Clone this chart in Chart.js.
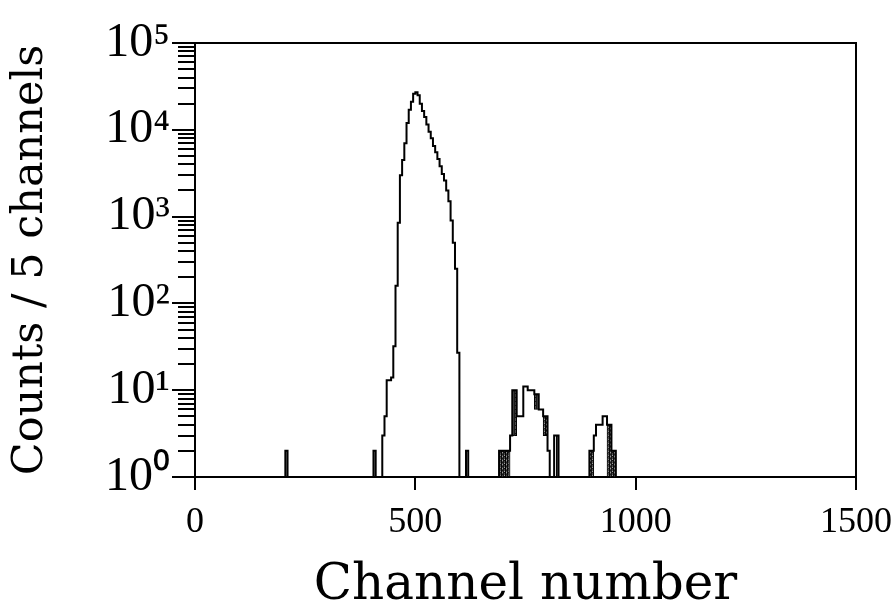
<!DOCTYPE html>
<html>
<head>
<meta charset="utf-8">
<script src="https://cdn.jsdelivr.net/npm/chart.js@4.4.0/dist/chart.umd.min.js"></script>
<style>
  html, body { margin: 0; padding: 0; background: #fff; }
  #wrap { width: 893px; height: 606px; }
</style>
</head>
<body>
<div id="wrap"><canvas id="spectrum"></canvas></div>
<script>
// ── Data (counts per 5-channel bin) ─────────────────────────
const BIN = 5;
const CHANNEL_MAX = 1500;

// main peak, first bin starts at channel 425
const mainStart = 425;
const mainCounts = [3, 5, 13, 13, 14, 32, 160, 850, 3000, 4500,
  7000, 12000, 17000, 21000, 26000, 27000, 25000, 20000, 16500, 14000,
  11500, 9500, 8000, 6500, 5500, 4600, 3800, 3100, 2600, 2000,
  1500, 900, 500, 250, 27];

// second group, from channel 690
const peak2Start = 690;
const peak2Counts = [2, 2, 2, 2, 2, 3, 10, 10, 5, 5, 5, 11, 11, 10, 10, 10,
  9, 9, 6, 6, 5, 5, 2, 1, 1, 3, 3];

// third group, from channel 895
const peak3Start = 895;
const peak3Counts = [2, 2, 3, 4, 4, 4, 5, 5, 4, 4, 2, 2];

// isolated single bins
const spikeChannels = [205, 405, 615];
const spikeCounts = [2, 2, 2];

// shaded parts of bins (bin start, lower and upper count)
const shadeStart = [690, 695, 700, 705, 710, 720, 725, 770, 775, 790, 795, 820, 895, 900, 935, 940, 945, 950];
const shadeLow   = [1, 1, 1, 1, 1, 3, 3, 6, 6, 3, 3, 1, 1, 1, 1, 1, 1, 1];
const shadeHigh  = [2, 2, 2, 2, 2, 10, 10, 9, 9, 5, 5, 3, 2, 2, 4, 4, 2, 2];

// axes
const xTicks = [0, 500, 1000, 1500];
const yMajor = [1, 10, 100, 1000, 10000, 100000];
const yLabels = ['10⁰', '10¹', '10²', '10³', '10⁴', '10⁵'];
const yMinorMantissa = [2, 3, 4, 5, 6, 7, 8, 9];

// ── Build histogram ─────────────────────────────────────────
const counts = new Array(CHANNEL_MAX / BIN).fill(1);
function put(start, arr) {
  arr.forEach((v, i) => { counts[start / BIN + i] = v; });
}
put(mainStart, mainCounts);
put(peak2Start, peak2Counts);
put(peak3Start, peak3Counts);
spikeChannels.forEach((ch, i) => { counts[ch / BIN] = spikeCounts[i]; });

const outline = counts.map((v, i) => ({ x: i * BIN, y: v }));
outline.push({ x: CHANNEL_MAX, y: 1 });

const shaded = shadeStart.map((ch, i) => ({ x: ch + BIN / 2, y: [shadeLow[i], shadeHigh[i]] }));

const yMinor = [];
yMajor.slice(0, -1).forEach(d => yMinorMantissa.forEach(m => yMinor.push(d * m)));

function makeShade() {
  const c = document.createElement('canvas');
  c.width = 4; c.height = 4;
  const g = c.getContext('2d');
  g.fillStyle = '#444'; g.fillRect(0, 0, 4, 4);
  g.fillStyle = '#000'; g.fillRect(0, 0, 1, 1); g.fillRect(2, 2, 1, 1); g.fillRect(3, 1, 1, 1);
  g.fillStyle = '#aaa'; g.fillRect(2, 0, 1, 1); g.fillRect(0, 3, 1, 1);
  return g.createPattern(c, 'repeat');
}

// ── Chart ───────────────────────────────────────────────────
const black = '#000';
const serifTick = 'Liberation Serif';
const serifTitle = 'DejaVu Serif';

new Chart(document.getElementById('spectrum'), {
  type: 'line',
  data: {
    datasets: [
      {
        type: 'line',
        data: outline,
        stepped: true,
        borderColor: black,
        borderWidth: 2,
        pointRadius: 0,
        fill: false,
        order: 0,
      },
      {
        type: 'bar',
        data: shaded,
        backgroundColor: makeShade(),
        borderColor: black,
        borderWidth: 1,
        borderSkipped: false,
        barPercentage: 1,
        categoryPercentage: 1,
        order: 1,
      },
    ],
  },
  options: {
    responsive: true,
    maintainAspectRatio: false,
    animation: false,
    layout: { padding: { top: 43, right: 37, left: 0, bottom: 0 } },
    plugins: { legend: { display: false }, tooltip: { enabled: false } },
    scales: {
      x: {
        type: 'linear', min: 0, max: CHANNEL_MAX, position: 'bottom', offset: false,
        afterBuildTicks: s => { s.ticks = xTicks.map(v => ({ value: v })); },
        afterFit: s => { s.height = 129; s.paddingLeft = 0; s.paddingRight = 0; },
        ticks: {
          color: black, autoSkip: false, maxRotation: 0, padding: 11,
          font: { family: serifTick, size: 36 },
          callback: v => String(v),
        },
        grid: { display: true, offset: false, drawOnChartArea: false, tickLength: 13, color: black, lineWidth: 2 },
        border: { display: true, color: black, width: 2 },
        title: {
          display: true, text: 'Channel number', color: black,
          font: { family: serifTitle, size: 50, lineHeight: 0.8 },
          padding: { top: 0, bottom: 0 },
        },
      },
      xTop: {
        type: 'linear', min: 0, max: CHANNEL_MAX, position: 'top', offset: false,
        afterFit: s => { s.height = 0; s.paddingLeft = 0; s.paddingRight = 0; },
        ticks: { display: false },
        grid: { display: false, offset: false },
        border: { display: true, color: black, width: 2 },
      },
      y: {
        type: 'logarithmic', min: 1, max: 1e5, position: 'left', weight: 1,
        afterBuildTicks: s => { s.ticks = yMajor.map(v => ({ value: v })); },
        afterFit: s => { s.width = 195; },
        ticks: {
          color: black, autoSkip: false, padding: 2,
          font: { family: serifTick, size: 48 },
          callback: v => yLabels[yMajor.indexOf(v)],
        },
        grid: { display: true, drawOnChartArea: false, tickLength: 23, color: black, lineWidth: 2 },
        border: { display: true, color: black, width: 2 },
        title: {
          display: true, text: 'Counts / 5 channels', color: black,
          font: { family: serifTitle, size: 43, lineHeight: 1 },
          padding: { top: 9, bottom: 0 },
        },
      },
      yMinor: {
        type: 'logarithmic', min: 1, max: 1e5, position: 'left', weight: 0,
        afterBuildTicks: s => { s.ticks = yMinor.map(v => ({ value: v })); },
        afterFit: s => { s.width = 0; },
        ticks: { display: false },
        grid: { display: true, drawOnChartArea: false, tickLength: 17, color: black, lineWidth: 2 },
        border: { display: false },
      },
      yRight: {
        type: 'logarithmic', min: 1, max: 1e5, position: 'right',
        afterFit: s => { s.width = 0; },
        ticks: { display: false },
        grid: { display: false },
        border: { display: true, color: black, width: 2 },
      },
    },
  },
});
</script>
</body>
</html>
